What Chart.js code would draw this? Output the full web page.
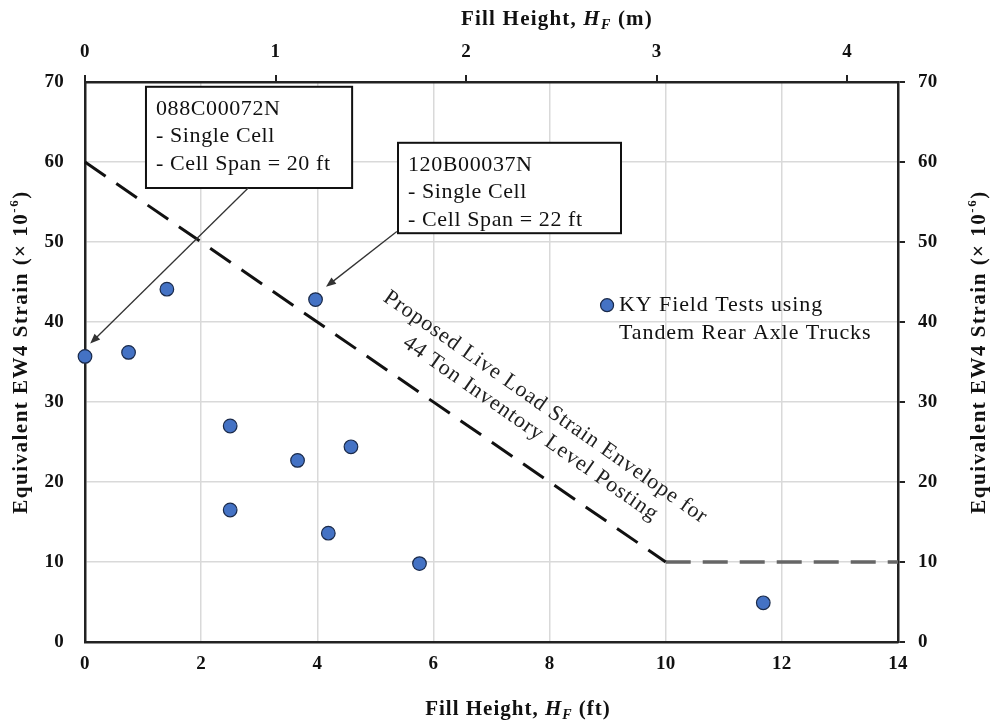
<!DOCTYPE html>
<html><head><meta charset="utf-8">
<script src="https://cdn.jsdelivr.net/npm/chart.js@4.4.1/dist/chart.umd.min.js"></script>
<style>html,body{margin:0;padding:0;background:#fff;}#wrap{width:995px;height:721px;}</style>
</head><body><div id="wrap"><canvas id="c" width="995" height="721"></canvas></div>
<script>
// ---- data ----
const fillHeightFt = [0, 0.75, 1.41, 3.97, 2.50, 3.66, 4.58, 2.50, 4.19, 5.76, 11.68];
const strainEW4   = [35.7, 36.2, 44.1, 42.8, 27.0, 22.7, 24.4, 16.5, 13.6, 9.8, 4.9];
const envelopeSlopeFt = [0, 10];
const envelopeSlopeStrain = [60, 10];
const envelopeFlatFt = [10, 14];
const envelopeFlatStrain = [10, 10];
const FT_PER_M = 3.28084;
const seriesLabel = ['KY Field Tests using', 'Tandem Rear Axle Trucks'];
const envelopeLabel = ['Proposed Live Load Strain Envelope for', '44 Ton Inventory Level Posting'];
const note1 = ['088C00072N', '- Single Cell', '- Cell Span = 20 ft'];
const note2 = ['120B00037N', '- Single Cell', '- Cell Span = 22 ft'];

const SERIF = '"Liberation Serif", "Times New Roman", serif';
const toPts = (xs, ys) => xs.map((x, i) => ({x, y: ys[i]}));

function drawRich(ctx, segs, cx, baseY, ls) {
  ctx.letterSpacing = ls + 'px';
  let total = 0;
  segs.forEach(s => { ctx.font = s.font; s.w = ctx.measureText(s.t).width; total += s.w; });
  let x = cx - total / 2;
  ctx.textAlign = 'left'; ctx.textBaseline = 'alphabetic';
  segs.forEach(s => { ctx.font = s.font; ctx.fillText(s.t, x, baseY + (s.dy || 0)); x += s.w; });
}
function arrow(ctx, x1, y1, x2, y2) {
  const a = Math.atan2(y2 - y1, x2 - x1), L = 10, W = 4;
  ctx.beginPath(); ctx.moveTo(x1, y1); ctx.lineTo(x2 - L * 0.8 * Math.cos(a), y2 - L * 0.8 * Math.sin(a)); ctx.stroke();
  ctx.beginPath();
  ctx.moveTo(x2, y2);
  ctx.lineTo(x2 - L * Math.cos(a) + W * Math.sin(a), y2 - L * Math.sin(a) - W * Math.cos(a));
  ctx.lineTo(x2 - L * Math.cos(a) - W * Math.sin(a), y2 - L * Math.sin(a) + W * Math.cos(a));
  ctx.closePath(); ctx.fill();
}

const overlay = {
  id: 'overlay',
  beforeDraw(chart) {
    chart.ctx.letterSpacing = '0.3px';
  },
  afterDraw(chart) {
    const ctx = chart.ctx, sx = chart.scales.x, sy = chart.scales.y;
    const X = v => sx.getPixelForValue(v), Y = v => sy.getPixelForValue(v);
    ctx.save();
    ctx.fillStyle = '#111';
    const B = 'bold 21px ' + SERIF, BI = 'italic bold 21px ' + SERIF, BIs = 'italic bold 14px ' + SERIF;
    // axis titles
    drawRich(ctx, [{t:'Fill Height, ', font:B},{t:'H', font:BI},{t:'F', font:BIs, dy:4},{t:' (m)', font:B}], 557, 25, 1.2);
    drawRich(ctx, [{t:'Fill Height, ', font:B},{t:'H', font:BI},{t:'F', font:BIs, dy:4},{t:' (ft)', font:B}], 518, 715, 1.0);
    const ytitle = [{t:'Equivalent EW4 Strain (\u00d7 10', font:B},{t:'-6', font:'bold 13px ' + SERIF, dy:-9},{t:')', font:B}];
    [[27, 352], [985, 352]].forEach(([cx, cy]) => {
      ctx.save(); ctx.translate(cx, cy); ctx.rotate(-Math.PI / 2);
      drawRich(ctx, ytitle.map(s => Object.assign({}, s)), 0, 0, 1.5);
      ctx.restore();
    });
    // annotation boxes
    ctx.letterSpacing = '0.6px';
    ctx.font = '22px ' + SERIF;
    ctx.textAlign = 'left'; ctx.textBaseline = 'middle';
    ctx.strokeStyle = '#111'; ctx.lineWidth = 2;
    const box = (x0, x1, y0, y1, lines) => {
      const l = X(x0), r = X(x1), t = Y(y0), b = Y(y1);
      ctx.fillStyle = '#fff'; ctx.fillRect(l, t, r - l, b - t);
      ctx.strokeRect(l, t, r - l, b - t);
      ctx.fillStyle = '#111';
      lines.forEach((s, i) => ctx.fillText(s, l + 10, t + 22 + i * 27.5));
    };
    box(1.05, 4.6, 69.4, 56.75, note1);
    box(5.39, 9.23, 62.4, 51.1, note2);
    // arrows
    ctx.strokeStyle = '#333'; ctx.fillStyle = '#333'; ctx.lineWidth = 1.3;
    arrow(ctx, X(2.81), Y(56.75), X(0.09), Y(37.3));
    arrow(ctx, X(5.37), Y(51.3), X(4.15), Y(44.4));
    // envelope label
    ctx.fillStyle = '#222';
    ctx.save();
    ctx.translate(X(7.8), Y(28.0));
    ctx.rotate(35 * Math.PI / 180);
    ctx.letterSpacing = '0.9px';
    ctx.font = '22px ' + SERIF; ctx.textAlign = 'center'; ctx.textBaseline = 'middle';
    ctx.fillText(envelopeLabel[0], 0, -13);
    ctx.fillText(envelopeLabel[1], 0, 13);
    ctx.restore();
    // legend
    const lx = X(8.99), ly = Y(42.1);
    ctx.beginPath(); ctx.arc(lx, ly, 6.5, 0, Math.PI * 2);
    ctx.fillStyle = '#4472C4'; ctx.fill(); ctx.strokeStyle = '#1a2a4a'; ctx.lineWidth = 1.2; ctx.stroke();
    ctx.fillStyle = '#111'; ctx.font = '22px ' + SERIF; ctx.letterSpacing = '0.9px';
    ctx.textAlign = 'left'; ctx.textBaseline = 'middle';
    ctx.fillText(seriesLabel[0], lx + 12, ly);
    ctx.fillText(seriesLabel[1], lx + 12, ly + 28);
    ctx.restore();
  }
};

const tickFont = {family: SERIF, size: 19, weight: 'bold'};
const fixW = w => s => { s.width = w; };
const fixH = h => s => { s.height = h; };

new Chart(document.getElementById('c'), {
  type: 'scatter',
  data: {
    datasets: [
      {label: 'envelope', data: toPts(envelopeSlopeFt, envelopeSlopeStrain), showLine: true,
       borderColor: '#111', borderWidth: 3, borderDash: [25, 13], pointRadius: 0, fill: false, order: 2},
      {label: 'envelope2', data: toPts(envelopeFlatFt, envelopeFlatStrain), showLine: true,
       borderColor: '#666', borderWidth: 3.5, borderDash: [25, 12], pointRadius: 0, fill: false, order: 2},
      {label: 'KY Field Tests', data: toPts(fillHeightFt, strainEW4), backgroundColor: '#4472C4',
       borderColor: '#1a2a4a', borderWidth: 1.2, pointRadius: 6.8, pointHoverRadius: 6.8, order: 1}
    ]
  },
  options: {
    responsive: false, animation: false, devicePixelRatio: 1, clip: false,
    layout: {padding: 0},
    plugins: {legend: {display: false}, tooltip: {enabled: false}},
    scales: {
      x: {type: 'linear', position: 'bottom', min: 0, max: 14,
          ticks: {stepSize: 2, font: tickFont, color: '#111', padding: 11, maxRotation: 0},
          grid: {color: '#d9d9d9', lineWidth: 1.5, drawTicks: false},
          border: {display: true, color: '#222', width: 2.5}, afterFit: fixH(79)},
      x2: {type: 'linear', position: 'top', min: 0, max: 14 / FT_PER_M,
          ticks: {stepSize: 1, includeBounds: false, font: tickFont, color: '#111', padding: 12, maxRotation: 0},
          grid: {drawOnChartArea: false, drawTicks: true, tickLength: 7, color: '#222', lineWidth: 2},
          border: {display: true, color: '#222', width: 2.5}, afterFit: fixH(82)},
      y: {type: 'linear', position: 'left', min: 0, max: 70,
          ticks: {stepSize: 10, font: tickFont, color: '#111', padding: 21},
          grid: {color: '#d9d9d9', lineWidth: 1.5, drawTicks: false},
          border: {display: true, color: '#222', width: 2.5}, afterFit: fixW(85)},
      y2: {type: 'linear', position: 'right', min: 0, max: 70,
          ticks: {stepSize: 10, font: tickFont, color: '#111', padding: 13},
          grid: {drawOnChartArea: false, drawTicks: true, tickLength: 7, color: '#222', lineWidth: 2},
          border: {display: true, color: '#222', width: 2.5}, afterFit: fixW(97)}
    }
  },
  plugins: [overlay]
});
</script></body></html>
